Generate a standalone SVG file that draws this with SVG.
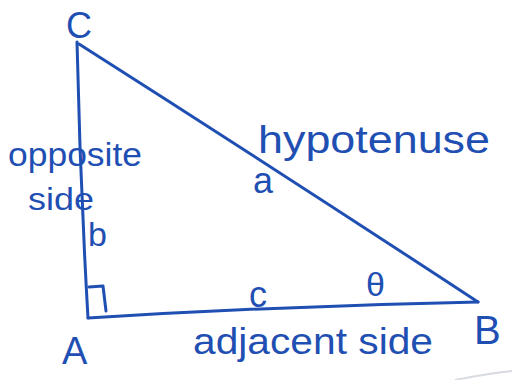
<svg xmlns="http://www.w3.org/2000/svg" width="512" height="380" viewBox="0 0 512 380">
<style>
.ln{fill:none;stroke:#1f4fb3;stroke-width:3;stroke-linecap:round;stroke-linejoin:round}
.t{fill:#1f4fb3;font-family:"Liberation Sans",Arial,sans-serif}
</style>
<rect width="512" height="380" fill="#ffffff"/>
<g id="connectors">
<path id="side-CA" class="ln" d="M77,42 Q80,180 88,318"/>
<path id="side-AB" class="ln" d="M88,318 Q280,306 478,302"/>
<path id="side-CB" class="ln" d="M79,44 Q280,172 478,302"/>
<path id="right-angle" class="ln" d="M89,287 L103,286 L106,311"/>
<path id="scan-line" d="M455,380 Q490,373 512,371" fill="none" stroke="#d8dbe0" stroke-width="2"/>
</g>
<g id="node-C"><text class="t" x="66" y="38" font-size="36">C</text></g>
<g id="node-A"><text class="t" x="62" y="364" font-size="38">A</text></g>
<g id="node-B"><text class="t" x="474" y="344" font-size="40">B</text></g>
<g id="label-b"><text class="t" x="88" y="246" font-size="34">b</text></g>
<g id="label-c"><text class="t" x="249" y="307" font-size="36">c</text></g>
<g id="label-theta"><text class="t" x="366" y="296" font-size="34">θ</text></g>
<g id="label-a"><text class="t" x="253" y="193" font-size="36">a</text></g>
<g id="label-hypotenuse"><text class="t" x="258" y="153" font-size="38" textLength="232" lengthAdjust="spacingAndGlyphs">hypotenuse</text></g>
<g id="label-opposite"><text class="t" x="8" y="166" font-size="34" textLength="134" lengthAdjust="spacingAndGlyphs">opposite</text></g>
<g id="label-side1"><text class="t" x="28" y="210" font-size="32" textLength="66" lengthAdjust="spacingAndGlyphs">side</text></g>
<g id="label-adjacent"><text class="t" x="193" y="354" font-size="36" textLength="240" lengthAdjust="spacingAndGlyphs">adjacent side</text></g>
</svg>
